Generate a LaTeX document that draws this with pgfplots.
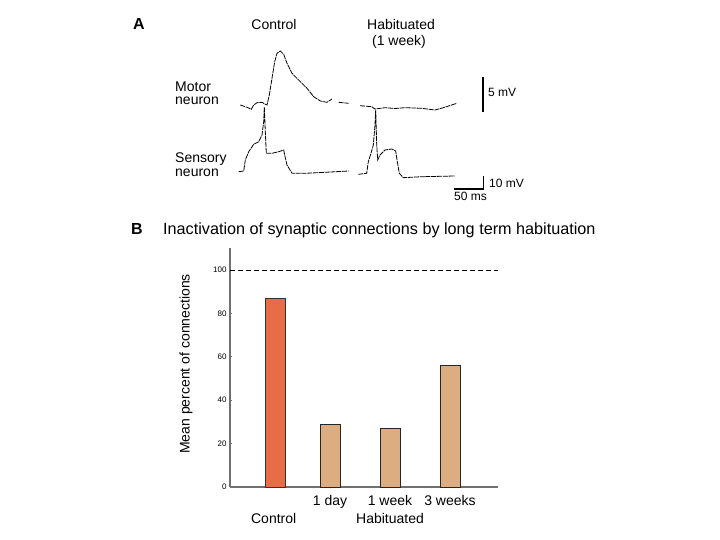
\documentclass[border=0pt]{standalone}
\usepackage{pgfplots}
\pgfplotsset{compat=1.18}
\usepackage{fontspec}
\setmainfont{Liberation Sans}

\definecolor{ctrl}{HTML}{E86C45}
\definecolor{hab}{HTML}{DDAD82}
\definecolor{axgray}{HTML}{707070}
\newcommand\lab{\fontsize{14}{16}\selectfont}
\newcommand\sml{\fontsize{12}{14}\selectfont}

\begin{document}
\begin{tikzpicture}
\useasboundingbox (0,0) rectangle (720pt,540pt);

% Panel A (recordings) and loose text, in pixel units of the page
\begin{axis}[at={(0,0)}, anchor=south west, width=720pt, height=540pt,
  scale only axis, xmin=0, xmax=720, ymin=0, ymax=540, y dir=reverse,
  hide axis, clip=false,
  trace/.style={black, no marks, line width=0.8pt, dash pattern=on 5pt off 0.8pt},
  bar/.style={black, no marks, solid, line width=1.6pt}]
  % motor neuron, control
  \addplot[trace] coordinates {(240.3,105) (247,107.3) (251.3,109.3) (253.7,105)
    (257,102.7) (262,102.3) (265.3,104.3) (267,105) (269.3,95) (272,78.3)
    (274.7,61.7) (277,53.3) (280.3,51) (283.7,54.3) (287,63.3) (292,73.3)
    (300.3,81.7) (307,88.3) (313.7,96.7) (320.3,101) (327,102.3) (332,99)};
  \addplot[trace] coordinates {(338.7,102.3) (348.7,103.3)};
  % sensory neuron, control
  \addplot[trace] coordinates {(238.7,171.7) (243.7,171) (245.3,160) (248.7,151.7)
    (253.7,144.3) (258.7,141.7) (262,135) (263.7,121.7) (264.3,107)
    (265.3,131.7) (266.3,153.3) (272,153.3) (278.7,151.7) (283.7,150)
    (284.7,155) (287,165) (292,173.3) (305.3,173.3) (325.3,172.3) (348.7,171)};
  % motor neuron, habituated
  \addplot[trace] coordinates {(360,105.7) (371.7,106.7) (375,109) (385,107.7)
    (395,108.5) (405,107.7) (421.7,108.3) (435,110) (443.3,107.7)
    (451.7,105) (456.7,103.3)};
  % sensory neuron, habituated
  \addplot[trace] coordinates {(358.3,174.3) (366.7,173.3) (368.3,161.7) (371,153.3)
    (373.3,145) (375,125) (375.7,110) (376.7,145) (377.7,160) (380,155)
    (385,150) (391.7,149) (395.7,151) (397.3,161.7) (399.3,173.3)
    (403.3,177.7) (421.7,176.7) (455,176)};
  % scale bars
  \addplot[bar] coordinates {(483,77) (483,112)};
  \addplot[bar] coordinates {(454,189) (483.5,189) (483.5,176)};

  \node[anchor=base, font=\fontsize{16}{18}\selectfont\bfseries] at (axis cs:139,30) {A};
  \node[anchor=base, font=\lab] at (axis cs:274,30) {Control};
  \node[anchor=base, font=\lab] at (axis cs:401,30) {Habituated};
  \node[anchor=base, font=\lab] at (axis cs:399,45.5) {(1 week)};
  \node[anchor=base west, font=\lab, inner sep=0pt] at (axis cs:175,91.7) {Motor};
  \node[anchor=base west, font=\lab, inner sep=0pt] at (axis cs:175,105) {neuron};
  \node[anchor=base west, font=\lab, inner sep=0pt] at (axis cs:175,162.5) {Sensory};
  \node[anchor=base west, font=\lab, inner sep=0pt] at (axis cs:175,176.7) {neuron};
  \node[anchor=base west, font=\sml, inner sep=0pt] at (axis cs:488,97) {5 mV};
  \node[anchor=base west, font=\sml, inner sep=0pt] at (axis cs:489,188) {10 mV};
  \node[anchor=base west, font=\sml, inner sep=0pt] at (axis cs:454,201) {50 ms};

  \node[anchor=base, font=\fontsize{16}{18}\selectfont\bfseries] at (axis cs:137,234.5) {B};
  \node[anchor=base west, font=\fontsize{16.2}{18}\selectfont, inner sep=0pt]
    at (axis cs:163,234.5) {Inactivation of synaptic connections by long term habituation};
  \node[anchor=base, font=\lab] at (axis cs:273.7,523.3) {Control};
  \node[anchor=base, font=\lab] at (axis cs:390,523.3) {Habituated};
\end{axis}

% Panel B (bar chart); x in page pixels, y in percent
\begin{axis}[at={(230pt,53pt)}, anchor=south west, width=268pt, height=239pt,
  scale only axis, xmin=230, xmax=498, ymin=0, ymax=110.14,
  axis x line=bottom, axis y line=left,
  axis line style={-, axgray, line width=1.3pt},
  ytick={0,20,...,100},
  yticklabel style={font=\fontsize{8}{9}\selectfont,
    /pgf/number format/assume math mode=true},
  y tick style={axgray, line width=0.6pt}, major tick length=2pt, tick align=inside,
  xtick={330,390,450}, xticklabels={1 day,1 week,3 weeks},
  x tick style={draw=none}, xticklabel style={font=\lab, yshift=-5pt},
  ylabel={Mean percent of connections},
  ylabel style={at={(axis description cs:-0.164,0.515)}, anchor=center, font=\lab},
  clip=false]
  \addplot[black, line width=0.8pt, dash pattern=on 5pt off 3pt]
    coordinates {(230,100) (498,100)};
  \addplot[ybar, bar width=20, bar shift=0pt, fill=ctrl, draw=black!80, line width=0.7pt]
    coordinates {(275.3,87)};
  \addplot[ybar, bar width=20, bar shift=0pt, fill=hab, draw=black!85, line width=0.7pt]
    coordinates {(330,29) (390,27) (450,56)};
\end{axis}
\end{tikzpicture}
\end{document}
